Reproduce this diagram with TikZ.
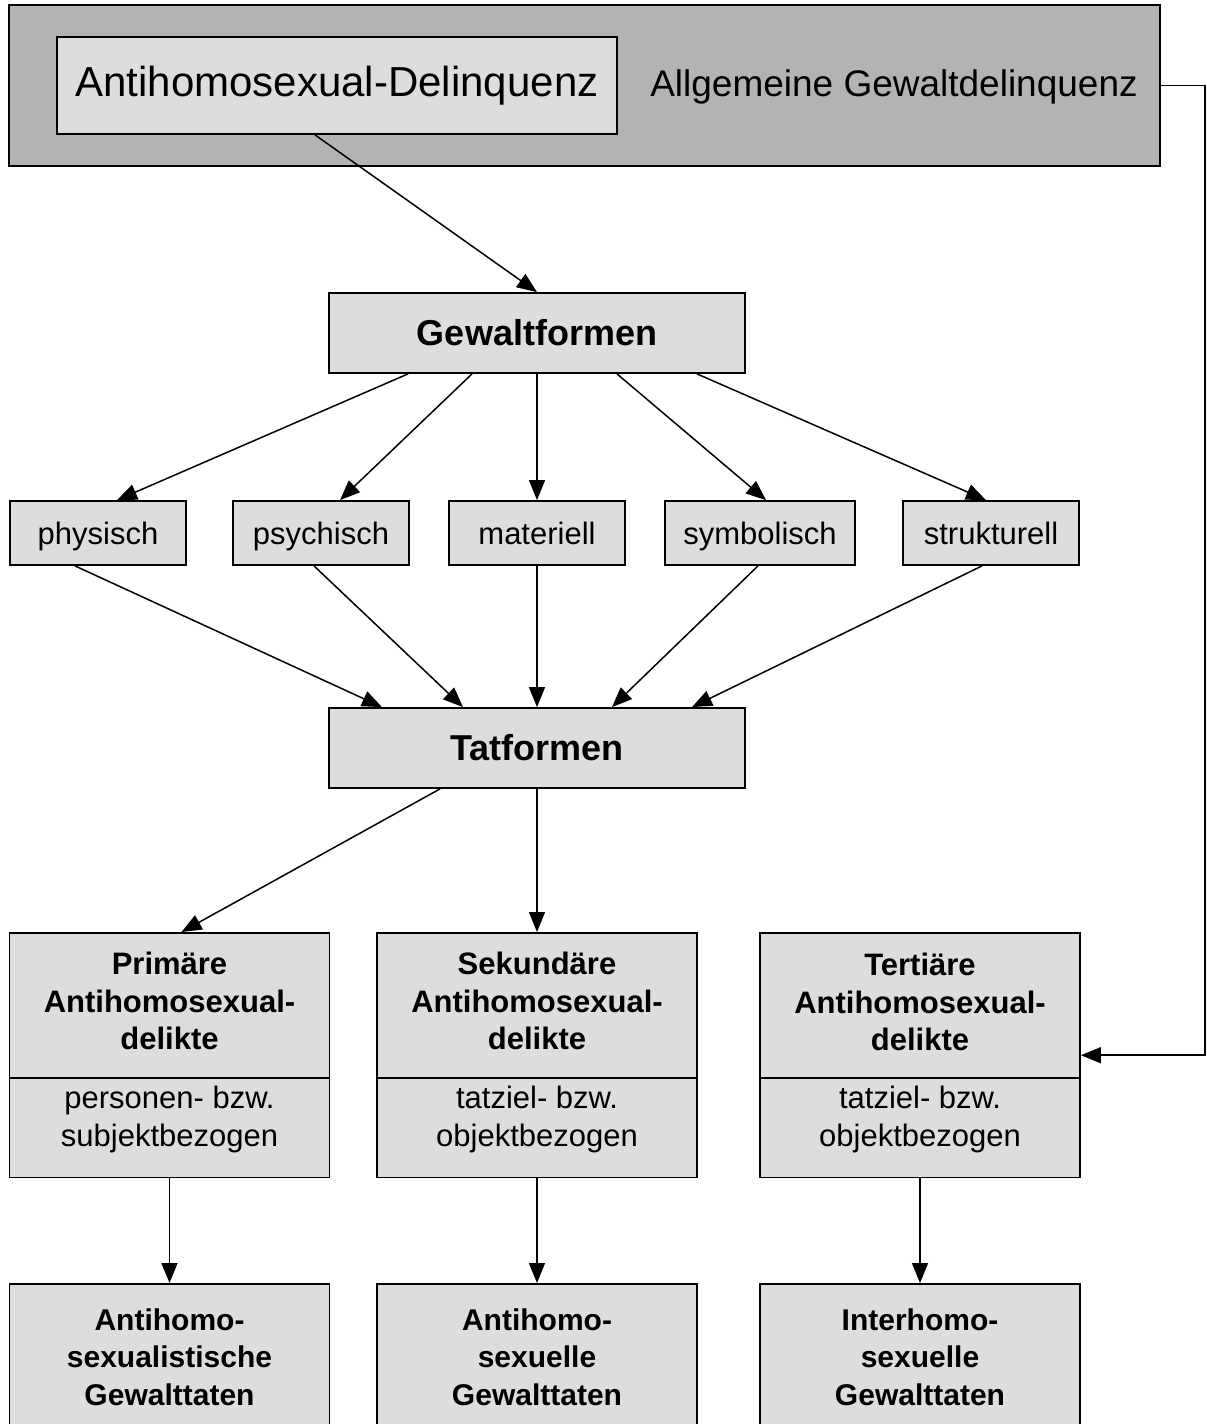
\documentclass[tikz,border=0pt]{standalone}
\usepackage{fontspec}
\setmainfont{Liberation Sans}
\usetikzlibrary{arrows.meta,positioning,shapes.multipart}

\definecolor{boxgray}{RGB}{221,221,221}
\definecolor{framegray}{RGB}{179,179,179}
\newcommand{\dfield}[3]{\parbox[t][#1][t]{320pt}{\centering\rule{0pt}{#2}#3}}

\begin{document}
\begin{tikzpicture}[
		x=1pt,y=-1pt,
		box/.style={
			draw,
			line width=1.8pt,
			fill=boxgray,
			inner sep=0pt
		},
		form/.style={
			box,
			minimum width=176pt,
			minimum height=64pt,
			inner xsep=18.5pt,
			text height=28pt,
			text depth=6pt,
			font=\fontsize{31}{37.5}\selectfont
		},
		level/.style={
			box,
			minimum width=416pt,
			minimum height=80pt,
			font=\fontsize{36}{43}\selectfont\bfseries
		},
		delikt/.style={
			box,
			rectangle split,
			rectangle split parts=2,
			font=\fontsize{31}{37.5}\selectfont
		},
		tat/.style={
			box,
			minimum width=320pt,
			minimum height=146pt,
			align=center,
			font=\fontsize{30}{37.5}\selectfont\bfseries
		},
		line/.style={line width=1.5pt},
		>={Triangle[length=20pt,width=16pt]}
		]
		\clip (0,0) rectangle (1207,1424);
		% top frame
		\node[box,fill=framegray,minimum width=1151pt,minimum height=161pt] (outer) at (584.5,85.5) {};
		\node[box,minimum width=560pt,minimum height=97pt,font=\fontsize{42}{50}\selectfont] (ahd) at (337,85.5) {Antihomosexual-Delinquenz};
		\node[font=\fontsize{37}{44}\selectfont] (allg) at (894,87) {Allgemeine Gewaltdelinquenz};
		% levels
		\node[level] (gf) at (537,333) {Gewaltformen};
		\node[level] (tf) at (537,748) {Tatformen};
		\foreach \nm/\xx/\tx in {phys/98/physisch,psych/321/psychisch,mat/537/materiell,sym/760/symbolisch,struk/991/strukturell}
			\node[form] (\nm) at (\xx,533) {\tx};
		% delikte
		\node[delikt,anchor=north] (prim) at (169.5,932)
			{\dfield{143pt}{41pt}{\bfseries Primäre\\Antihomosexual-\\delikte}
			\nodepart{two}\dfield{98pt}{30pt}{personen- bzw.\\subjektbezogen}};
		\node[delikt,anchor=north] (sek) at (537,932)
			{\dfield{143pt}{41pt}{\bfseries Sekundäre\\Antihomosexual-\\delikte}
			\nodepart{two}\dfield{98pt}{30pt}{tatziel- bzw.\\objektbezogen}};
		\node[delikt,anchor=north] (tert) at (920,932)
			{\dfield{143pt}{42pt}{\bfseries Tertiäre\\Antihomosexual-\\delikte}
			\nodepart{two}\dfield{98pt}{30pt}{tatziel- bzw.\\objektbezogen}};
		% gewalttaten
		\node[tat,anchor=north] (antilist) at (169.5,1283) {Antihomo-\\sexualistische\\Gewalttaten};
		\node[tat,anchor=north] (antisex) at (537,1283) {Antihomo-\\sexuelle\\Gewalttaten};
		\node[tat,anchor=north] (interh) at (920,1283) {Interhomo-\\sexuelle\\Gewalttaten};
		% connectors
		\draw[line,->] ([xshift=-22pt]ahd.south) -- (gf.north);
		\foreach \nm/\sa/\ta in {phys/-129/19,psych/-65/19,mat/0/0,sym/80/6,struk/160/-5}
			\draw[line,->] ([xshift=\sa pt]gf.south) -- ([xshift=\ta pt]\nm.north);
		\foreach \nm/\sb/\tb in {phys/-23/-155,psych/-7/-74,mat/0/0,sym/-2/75,struk/-9/155}
			\draw[line,->] ([xshift=\sb pt]\nm.south) -- ([xshift=\tb pt]tf.north);
		\draw[line,->] ([xshift=-97pt]tf.south) -- ([xshift=12pt]prim.north);
		\draw[line,->] (tf.south) -- (sek.north);
		\foreach \a/\b in {prim/antilist,sek/antisex,tert/interh}
			\draw[line,->] (\a.south) -- (\b.north);
		\coordinate (rim) at (1205,87);
		\draw[line,->] (outer.east) -- (outer.east -| rim) |- (tert.east);
\end{tikzpicture}
\end{document}
